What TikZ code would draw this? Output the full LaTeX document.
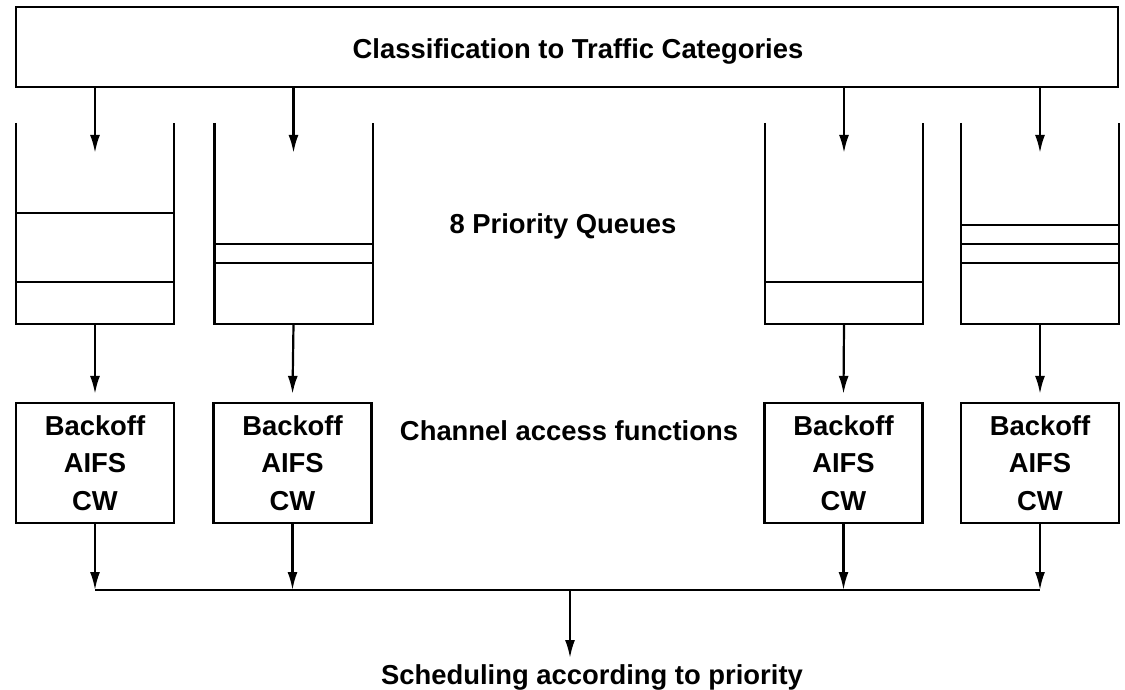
\documentclass[tikz,border=0pt]{standalone}
\usepackage{fontspec}
\setmainfont{Liberation Sans}
\usetikzlibrary{positioning,arrows.meta}

\begin{document}
\begin{tikzpicture}[x=1pt,y=1pt,>={Latex[length=18pt,width=10pt]},line width=2.2pt,
  b/.style={draw,align=center,inner sep=0pt,minimum width=158pt,minimum height=120pt,font=\fontsize{27.4}{37.5}\selectfont\bfseries},
  q/.style={inner sep=0pt,minimum width=156pt,minimum height=199pt},
  lab/.style={font=\fontsize{27.4}{33}\selectfont\bfseries,inner sep=0pt}]
\useasboundingbox (0,0) rectangle (1125,-690);
% classifier on top
\node[b,minimum width=1102pt,minimum height=80pt,
  label={[lab,xshift=11pt,yshift=-4pt]center:Classification to Traffic Categories}] (C) at (567,-47) {};
% queues (open at the top)
\node[q] (Q1) at (95,-223.5) {};
\node[q] (Q2) at (293.5,-223.5) {};
\node[q] (Q3) at (844,-223.5) {};
\node[q] (Q4) at (1040,-223.5) {};
\foreach \n in {Q1,Q2,Q3,Q4}
  \draw (\n.north west) |- (\n.south east) -- (\n.north east);
% queued frames
\foreach \n/\y in {Q1/212.7,Q1/281.7,Q2/243.7,Q2/262.7,Q3/281.7,Q4/225,Q4/243.7,Q4/262.7}
  \draw (\n.west |- 0,-\y) -- (\n.east |- 0,-\y);
\node[lab] (PQ) at (563,-226) {8 Priority Queues};
% channel access functions
\node[b] (B1) at (95,-463) {Backoff\\AIFS\\CW};
\node[b] (B2) at (292.5,-463) {Backoff\\AIFS\\CW};
\node[b] (B3) at (843.5,-463) {Backoff\\AIFS\\CW};
\node[b] (B4) at (1040,-463) {Backoff\\AIFS\\CW};
\node[lab] (CA) at (569,-431) {Channel access functions};
% arrows
\foreach \n in {1,...,4} {
  \draw[->] (C.south -| Q\n) -- ([yshift=-30pt]Q\n.north);
  \draw[->] (Q\n.south) -- ([yshift=8pt]B\n.north);
}
% scheduler
\coordinate (bus) at (570,-590);
\node[lab,anchor=north] (S) at (592,-664) {Scheduling according to priority};
\draw (B1.south |- bus) -- (B4.south |- bus);
\foreach \n in {1,...,4}
  \draw[->] (B\n.south) -- (B\n.south |- bus);
\draw[->] (bus) -- ([yshift=6pt]bus |- S.north);
\end{tikzpicture}
\end{document}
